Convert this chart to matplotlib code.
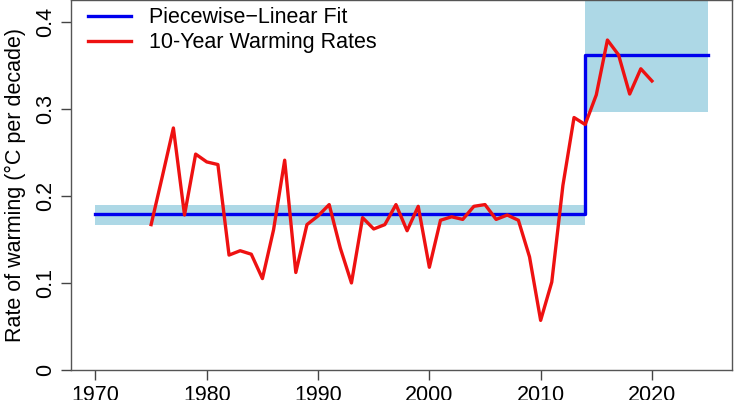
import numpy as np
import matplotlib.pyplot as plt

plt.rcParams['font.family'] = ['Liberation Sans', 'DejaVu Sans']

# 10-year warming rates
years = list(range(1975, 2021))
rates = [0.167, 0.222, 0.278, 0.178, 0.248, 0.239, 0.236, 0.132, 0.137, 0.133,
         0.105, 0.161, 0.241, 0.112, 0.167, 0.177, 0.190, 0.140, 0.100, 0.175,
         0.162, 0.167, 0.190, 0.160, 0.188, 0.118, 0.172, 0.176, 0.173, 0.188,
         0.190, 0.173, 0.178, 0.172, 0.130, 0.057, 0.101, 0.212, 0.290, 0.282,
         0.316, 0.379, 0.362, 0.317, 0.346, 0.332]

# piecewise fit: segment edges, levels and uncertainty bands
seg_edges = [1970, 2014, 2025]
seg_levels = [0.179, 0.362]
band_low = [0.167, 0.296]
band_high = [0.190, 0.45]

fig = plt.figure(figsize=(7.35, 4.0), dpi=100)
ax = fig.add_axes([0.0966, 0.075, 0.8994, 0.925])

for i in range(len(seg_levels)):
    ax.fill_between([seg_edges[i], seg_edges[i + 1]], band_low[i], band_high[i],
                    color='lightblue', linewidth=0, zorder=1)

fit_x = [seg_edges[0], seg_edges[1], seg_edges[1], seg_edges[2]]
fit_y = [seg_levels[0], seg_levels[0], seg_levels[1], seg_levels[1]]
ax.plot(fit_x, fit_y, color='#0000ee', linewidth=2.4, zorder=2,
        label='Piecewise\u2212Linear Fit')
ax.plot(years, rates, color='#ee1111', linewidth=2.4, zorder=3,
        label='10-Year Warming Rates')

ax.set_xlim(1967.8, 2027.2)
ax.set_ylim(0, 0.425)
ax.set_xticks([1970, 1980, 1990, 2000, 2010, 2020])
ax.set_yticks([0, 0.1, 0.2, 0.3, 0.4])
ax.set_yticklabels(['0', '0.1', '0.2', '0.3', '0.4'], rotation=90, va='center')
ax.tick_params(labelsize=15.5, length=7, width=1, color='#444444', pad=4)
ax.set_ylabel('Rate of warming (\u00b0C per decade)', fontsize=15.5, labelpad=6)

for s in ax.spines.values():
    s.set_color('#555555')
    s.set_linewidth(1)

ax.legend(loc='upper left', frameon=False, fontsize=15.5, handlelength=2.0,
          borderaxespad=0.0, bbox_to_anchor=(0.0125, 1.004), labelspacing=0.2,
          handletextpad=0.85)

fig.savefig('out.png', dpi=100)
